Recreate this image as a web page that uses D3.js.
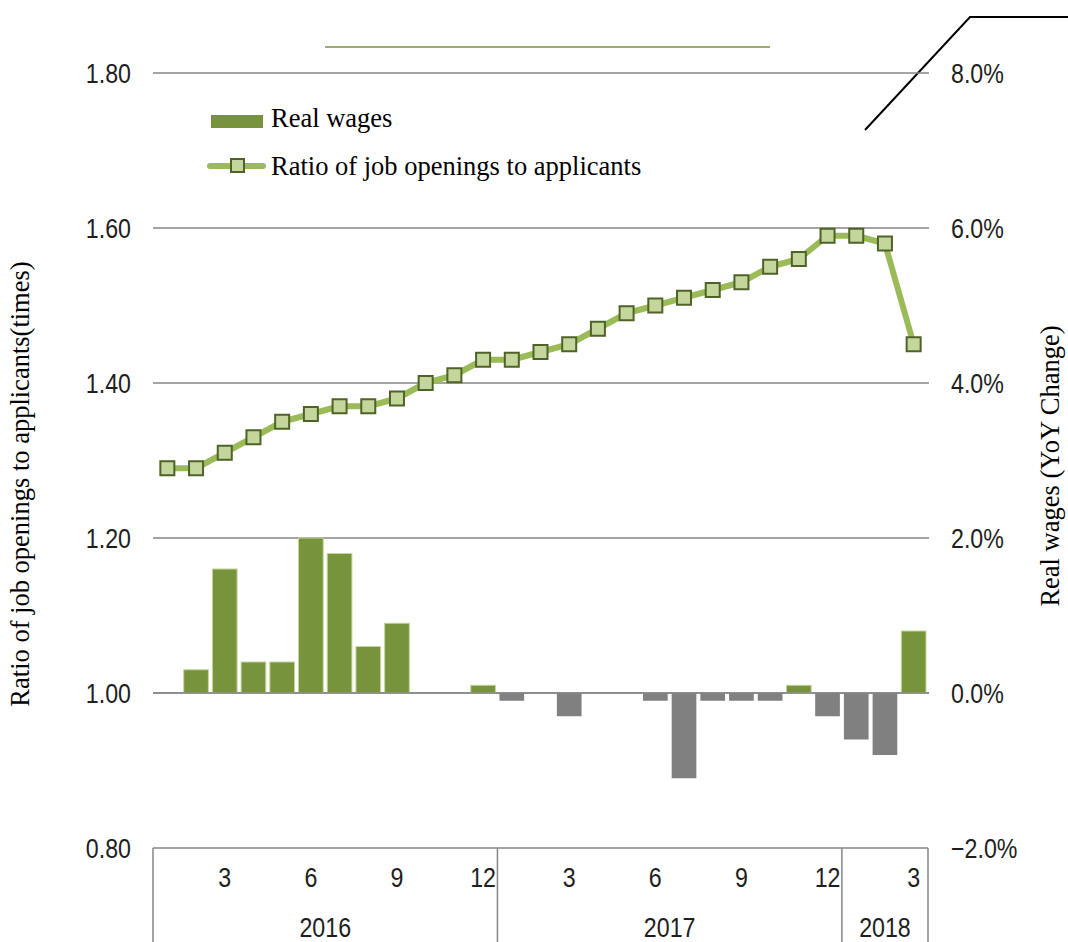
<!DOCTYPE html>
<html>
<head>
<meta charset="utf-8">
<script src="https://cdn.jsdelivr.net/npm/d3@7"></script>
<style>
  html, body { margin: 0; padding: 0; background: #fff; }
  svg { display: block; }
</style>
</head>
<body>
<svg id="chart" width="1068" height="942"></svg>
<script>
// Monthly series, Jan 2016 – Mar 2018
const months = ["2016-01","2016-02","2016-03","2016-04","2016-05","2016-06","2016-07","2016-08","2016-09","2016-10","2016-11","2016-12",
                "2017-01","2017-02","2017-03","2017-04","2017-05","2017-06","2017-07","2017-08","2017-09","2017-10","2017-11","2017-12",
                "2018-01","2018-02","2018-03"];
const monthLabels = ["","","3","","","6","","","9","","","12","","","3","","","6","","","9","","","12","","","3"];
const years = [{label: "2016", from: 0, to: 11}, {label: "2017", from: 12, to: 23}, {label: "2018", from: 24, to: 26}];

// Ratio of job openings to applicants (times), left axis
const jobRatio = [1.29,1.29,1.31,1.33,1.35,1.36,1.37,1.37,1.38,1.40,1.41,1.43,
                  1.43,1.44,1.45,1.47,1.49,1.50,1.51,1.52,1.53,1.55,1.56,1.59,
                  1.59,1.58,1.45];
// Real wages, YoY change (%), right axis
const realWages = [0.0,0.3,1.6,0.4,0.4,2.0,1.8,0.6,0.9,0.0,0.0,0.1,
                   -0.1,0.0,-0.3,0.0,0.0,-0.1,-1.1,-0.1,-0.1,-0.1,0.1,-0.3,
                   -0.6,-0.8,0.8];

const leftTicks = [0.8, 1.0, 1.2, 1.4, 1.6, 1.8];
const rightTicks = [-2, 0, 2, 4, 6, 8];

const svg = d3.select("#chart");
const plot = {left: 153, right: 928, top: 73, bottom: 848};

const x = d3.scaleBand().domain(months).range([plot.left, plot.right]).paddingInner(0.14).paddingOuter(0.07);
const xPoint = m => x(m) + x.bandwidth() / 2;
const yL = d3.scaleLinear().domain([0.8, 1.8]).range([plot.bottom, plot.top]);
const yR = d3.scaleLinear().domain([-2, 8]).range([plot.bottom, plot.top]);

const gridColor = "#868686";
const tickFont = "'Liberation Sans', Arial, sans-serif";
const tickSize = 27;
const tickSqueeze = 0.86;   // narrow tick glyphs horizontally
const tickColor = "#1e1e1e";
const serif = "'Liberation Serif', 'Times New Roman', serif";
const serifSize = 26.5;

// Places a narrowed tick label at (px, py)
function tickText(sel, px, py) {
  return sel.attr("transform", (d, i) => `translate(${px(d, i)},${py(d, i)}) scale(${tickSqueeze},1)`)
    .attr("font-family", tickFont).attr("font-size", tickSize).attr("fill", tickColor);
}

// Decorative strokes above the plot
svg.append("line").attr("x1", 325).attr("x2", 770).attr("y1", 47).attr("y2", 47)
  .attr("stroke", "#77933C").attr("stroke-width", 1.5);
svg.append("polyline").attr("points", "865,130 970,17 1068,17")
  .attr("fill", "none").attr("stroke", "#000").attr("stroke-width", 2);

// Horizontal gridlines
svg.append("g").selectAll("line").data(leftTicks.slice(1)).join("line")
  .attr("x1", plot.left).attr("x2", plot.right + 1)
  .attr("y1", d => yL(d)).attr("y2", d => yL(d))
  .attr("stroke", gridColor).attr("stroke-width", 1.5);

// Real wages bars (green above zero, grey below)
svg.append("g").selectAll("rect").data(months.map((m, i) => ({m, v: realWages[i]})).filter(d => d.v !== 0)).join("rect")
  .attr("x", d => x(d.m))
  .attr("width", x.bandwidth())
  .attr("y", d => yR(Math.max(0, d.v)))
  .attr("height", d => Math.abs(yR(d.v) - yR(0)))
  .attr("fill", d => d.v > 0 ? "#77933C" : "#808080")
  .attr("stroke", d => d.v > 0 ? "#C3D69B" : "none")
  .attr("stroke-width", 1);

// Zero line drawn over the bars
svg.append("line").attr("x1", plot.left).attr("x2", plot.right + 1)
  .attr("y1", yR(0)).attr("y2", yR(0)).attr("stroke", gridColor).attr("stroke-width", 1.5);

// Job openings ratio line with square markers
const line = d3.line().x((d, i) => xPoint(months[i])).y(d => yL(d));
svg.append("path").datum(jobRatio).attr("d", line)
  .attr("fill", "none").attr("stroke", "#9BBB59").attr("stroke-width", 6).attr("stroke-linejoin", "round");
const ms = 14;
svg.append("g").selectAll("rect").data(jobRatio).join("rect")
  .attr("x", (d, i) => xPoint(months[i]) - ms / 2)
  .attr("y", d => yL(d) - ms / 2)
  .attr("width", ms).attr("height", ms)
  .attr("fill", "#C3D69B").attr("stroke", "#4F6228").attr("stroke-width", 2);

// Left axis labels
tickText(svg.append("g").selectAll("text").data(leftTicks).join("text"), () => 131, d => yL(d) + 9.5)
  .attr("text-anchor", "end")
  .text(d => d3.format(".2f")(d));

// Right axis labels
tickText(svg.append("g").selectAll("text").data(rightTicks).join("text"), () => 951, d => yR(d) + 9.5)
  .attr("text-anchor", "start")
  .text(d => (d < 0 ? "\u2212" : "") + Math.abs(d).toFixed(1) + "%");

// Category axis: box border, year separators, month and year labels
const axisG = svg.append("g");
axisG.append("line").attr("x1", plot.left).attr("x2", plot.right).attr("y1", plot.bottom).attr("y2", plot.bottom)
  .attr("stroke", gridColor).attr("stroke-width", 1.5);
const sepX = [plot.left, ...years.map(y => x(months[y.to]) + x.bandwidth() + x.step() * 0.07)];
sepX[sepX.length - 1] = plot.right;
axisG.selectAll("line.sep").data(sepX).join("line").attr("class", "sep")
  .attr("x1", d => d).attr("x2", d => d).attr("y1", plot.bottom).attr("y2", 942)
  .attr("stroke", gridColor).attr("stroke-width", 1.5);
tickText(axisG.selectAll("text.m").data(months).join("text").attr("class", "m"), d => xPoint(d), () => 887)
  .attr("text-anchor", "middle")
  .text((d, i) => monthLabels[i]);
tickText(axisG.selectAll("text.y").data(years).join("text").attr("class", "y"),
         d => (xPoint(months[d.from]) + xPoint(months[d.to])) / 2, () => 937)
  .attr("text-anchor", "middle")
  .text(d => d.label);

// Axis titles
svg.append("text").attr("transform", "translate(29,484) rotate(-90)")
  .attr("text-anchor", "middle").attr("font-family", serif).attr("font-size", serifSize).attr("fill", "#000")
  .text("Ratio of job openings to applicants(times)");
svg.append("text").attr("transform", "translate(1059,466) rotate(-90)")
  .attr("text-anchor", "middle").attr("font-family", serif).attr("font-size", serifSize).attr("fill", "#000")
  .text("Real wages (YoY Change)");

// Legend
const lg = svg.append("g");
lg.append("rect").attr("x", 197).attr("y", 100).attr("width", 460).attr("height", 86).attr("fill", "#fff");
lg.append("rect").attr("x", 211).attr("y", 115).attr("width", 52).attr("height", 13).attr("fill", "#77933C");
lg.append("text").attr("x", 271).attr("y", 127).attr("font-family", serif).attr("font-size", serifSize).attr("fill", "#000").text("Real wages");
lg.append("line").attr("x1", 210).attr("x2", 263).attr("y1", 166).attr("y2", 166)
  .attr("stroke", "#9BBB59").attr("stroke-width", 6).attr("stroke-linecap", "round");
lg.append("rect").attr("x", 231).attr("y", 159).attr("width", 13).attr("height", 13)
  .attr("fill", "#C3D69B").attr("stroke", "#4F6228").attr("stroke-width", 2);
lg.append("text").attr("x", 271).attr("y", 175).attr("font-family", serif).attr("font-size", serifSize).attr("fill", "#000").text("Ratio of job openings to applicants");
</script>
</body>
</html>
